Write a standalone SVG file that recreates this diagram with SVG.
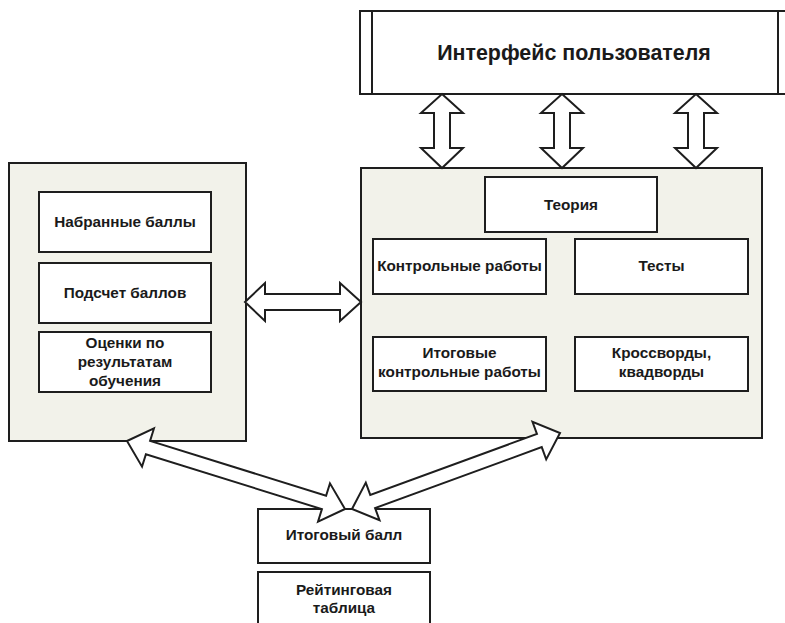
<svg xmlns="http://www.w3.org/2000/svg" width="785" height="623" viewBox="0 0 785 623">
  <style>
    .panel { fill: #f2f2ea; stroke: #1e1e1e; stroke-width: 2; }
    .box { fill: #ffffff; stroke: #1e1e1e; stroke-width: 2; }
    .arrow { fill: #ffffff; stroke: #1e1e1e; stroke-width: 2; stroke-linejoin: miter; }
    .lbl { font-family: "Liberation Sans", Arial, sans-serif; font-weight: bold; font-size: 15.3px; fill: #1a1a1a; text-anchor: middle; }
    .title { font-family: "Liberation Sans", Arial, sans-serif; font-weight: bold; font-size: 21.4px; fill: #1a1a1a; text-anchor: middle; }
  </style>
  <rect width="785" height="623" fill="#ffffff"/>

  <!-- user interface bar -->
  <g id="interface">
    <rect class="box" x="360" y="11" width="440" height="83"/>
    <line x1="372" y1="11" x2="372" y2="94" stroke="#1e1e1e" stroke-width="2"/>
    <line x1="778" y1="11" x2="778" y2="94" stroke="#1e1e1e" stroke-width="2"/>
    <text class="title" x="574" y="60">Интерфейс пользователя</text>
  </g>

  <!-- left panel: scoring -->
  <g id="scores-panel">
    <rect class="panel" x="9" y="163" width="237" height="278"/>
  </g>
  <g id="scored-points">
    <rect class="box" x="39" y="192" width="172" height="60"/>
    <text class="lbl" x="125" y="227">Набранные баллы</text>
  </g>
  <g id="points-count">
    <rect class="box" x="39" y="263" width="172" height="60"/>
    <text class="lbl" x="125" y="298">Подсчет баллов</text>
  </g>
  <g id="grades">
    <rect class="box" x="39" y="332" width="172" height="60"/>
    <text class="lbl" x="125" y="348">Оценки по</text>
    <text class="lbl" x="125" y="367">результатам</text>
    <text class="lbl" x="125" y="386">обучения</text>
  </g>

  <!-- right panel: learning content -->
  <g id="content-panel">
    <rect class="panel" x="361" y="168" width="401" height="270"/>
  </g>
  <g id="theory">
    <rect class="box" x="485" y="177" width="172" height="55"/>
    <text class="lbl" x="571" y="210">Теория</text>
  </g>
  <g id="control-works">
    <rect class="box" x="373" y="239" width="173" height="55"/>
    <text class="lbl" x="459.5" y="271">Контрольные работы</text>
  </g>
  <g id="tests">
    <rect class="box" x="575" y="239" width="173" height="55"/>
    <text class="lbl" x="661.5" y="271">Тесты</text>
  </g>
  <g id="final-control-works">
    <rect class="box" x="373" y="337" width="173" height="54"/>
    <text class="lbl" x="459.5" y="358">Итоговые</text>
    <text class="lbl" x="459.5" y="377">контрольные работы</text>
  </g>
  <g id="crosswords">
    <rect class="box" x="575" y="337" width="173" height="54"/>
    <text class="lbl" x="661.5" y="358">Кроссворды,</text>
    <text class="lbl" x="661.5" y="377">квадворды</text>
  </g>

  <!-- bottom: totals -->
  <g id="final-score">
    <rect class="box" x="258" y="509" width="172" height="54"/>
    <text class="lbl" x="344" y="540">Итоговый балл</text>
  </g>
  <g id="rating-table">
    <rect class="box" x="258" y="572" width="172" height="60"/>
    <text class="lbl" x="344" y="595">Рейтинговая</text>
    <text class="lbl" x="344" y="613">таблица</text>
  </g>

  <!-- block double arrows -->
  <g id="connectors">
    <path class="arrow" d="M442,94 L463,113 L450,113 L450,148 L463,148 L442,168 L421,148 L434,148 L434,113 L421,113 Z"/>
    <path class="arrow" d="M562,94 L583,113 L570,113 L570,148 L583,148 L562,168 L541,148 L554,148 L554,113 L541,113 Z"/>
    <path class="arrow" d="M696,94 L717,113 L704,113 L704,148 L717,148 L696,168 L675,148 L688,148 L688,113 L675,113 Z"/>
    <path class="arrow" d="M245,302 L265,283 L265,294 L340,294 L340,283 L361,302 L340,321 L340,310 L265,310 L265,321 Z"/>
    <path class="arrow" d="M127,441 L153.96,428.46 L150.08,440.87 L326.08,495.77 L329.96,483.36 L345,509 L318.04,521.54 L321.92,509.13 L145.92,454.23 L142.04,466.64 Z"/>
    <path class="arrow" d="M352,509 L365.8,482.66 L370.26,494.87 L536.94,433.97 L532.48,421.76 L560,433 L546.2,459.34 L541.74,447.13 L375.06,508.03 L379.52,520.24 Z"/>
  </g>
</svg>
